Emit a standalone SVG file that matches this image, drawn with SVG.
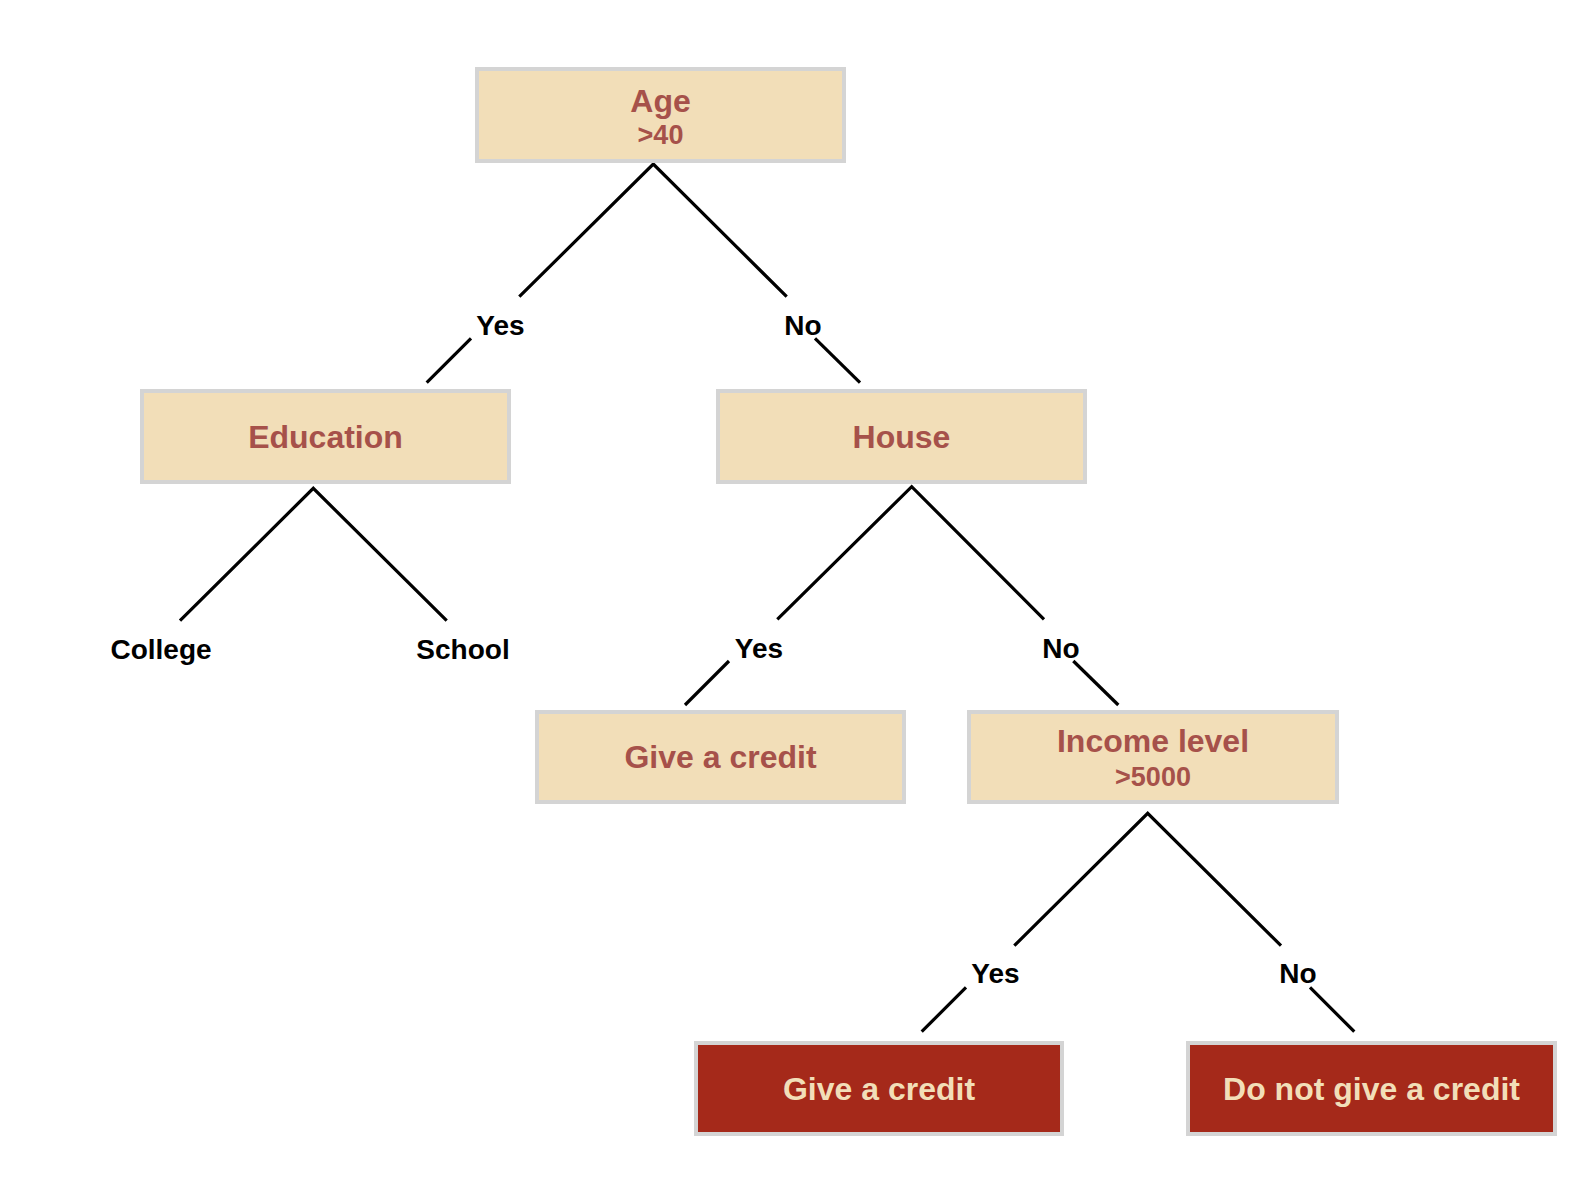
<svg xmlns="http://www.w3.org/2000/svg" width="1574" height="1204" viewBox="0 0 1574 1204">
<style>
.box{fill:#F2DEB8;stroke:#D4D4D4;stroke-width:4}
.leaf{fill:#A5291A;stroke:#D4D4D4;stroke-width:4}
.t{font-family:"Liberation Sans",Arial,sans-serif;font-weight:bold;text-anchor:middle}
.main{font-size:32px;fill:#A6514A}
.sub{font-size:27px;fill:#A6514A}
.lt{font-size:32px;fill:#F2DEB8}
.lbl{font-size:28px;fill:#000}
.c{fill:none;stroke:#000;stroke-width:3.2;stroke-linejoin:miter}
</style>
<rect width="1574" height="1204" fill="#fff"/>
<g id="connectors">
<polyline class="c" points="519.3,296.7 653.3,164 786.7,296.7"/>
<line class="c" x1="471" y1="338.3" x2="426.7" y2="382.7"/>
<line class="c" x1="815" y1="338.3" x2="860" y2="382.7"/>
<polyline class="c" points="180,620.7 313.3,488.3 446.7,620.7"/>
<polyline class="c" points="777.3,619.3 911.7,486.7 1044,619.3"/>
<line class="c" x1="729" y1="661" x2="685" y2="705"/>
<line class="c" x1="1073.3" y1="661" x2="1118.3" y2="705"/>
<polyline class="c" points="1014.3,945.7 1147.7,813.3 1281,945.7"/>
<line class="c" x1="966" y1="987.3" x2="921.7" y2="1031.7"/>
<line class="c" x1="1310" y1="987.3" x2="1354.3" y2="1031.7"/>
<text class="t lbl" x="500.5" y="335">Yes</text>
<text class="t lbl" x="803" y="335">No</text>
<text class="t lbl" x="161" y="659">College</text>
<text class="t lbl" x="463" y="659">School</text>
<text class="t lbl" x="759" y="658">Yes</text>
<text class="t lbl" x="1061" y="658">No</text>
<text class="t lbl" x="995.5" y="983">Yes</text>
<text class="t lbl" x="1298" y="983">No</text>
</g>
<g id="age">
<rect class="box" x="477" y="69" width="367" height="92"/>
<text class="t main" x="660.5" y="112">Age</text>
<text class="t sub" x="660.5" y="144">&gt;40</text>
</g>
<g id="education">
<rect class="box" x="142" y="391" width="367" height="91"/>
<text class="t main" x="325.5" y="447.5">Education</text>
</g>
<g id="house">
<rect class="box" x="718" y="391" width="367" height="91"/>
<text class="t main" x="901.5" y="447.5">House</text>
</g>
<g id="give-credit-1">
<rect class="box" x="537" y="712" width="367" height="90"/>
<text class="t main" x="720.5" y="768">Give a credit</text>
</g>
<g id="income">
<rect class="box" x="969" y="712" width="368" height="90"/>
<text class="t main" x="1153" y="752">Income level</text>
<text class="t sub" x="1153" y="786">&gt;5000</text>
</g>
<g id="give-credit-2">
<rect class="leaf" x="696" y="1043" width="366" height="91"/>
<text class="t lt" x="879" y="1100">Give a credit</text>
</g>
<g id="no-credit">
<rect class="leaf" x="1188" y="1043" width="367" height="91"/>
<text class="t lt" x="1371.5" y="1099.5">Do not give a credit</text>
</g>
</svg>
